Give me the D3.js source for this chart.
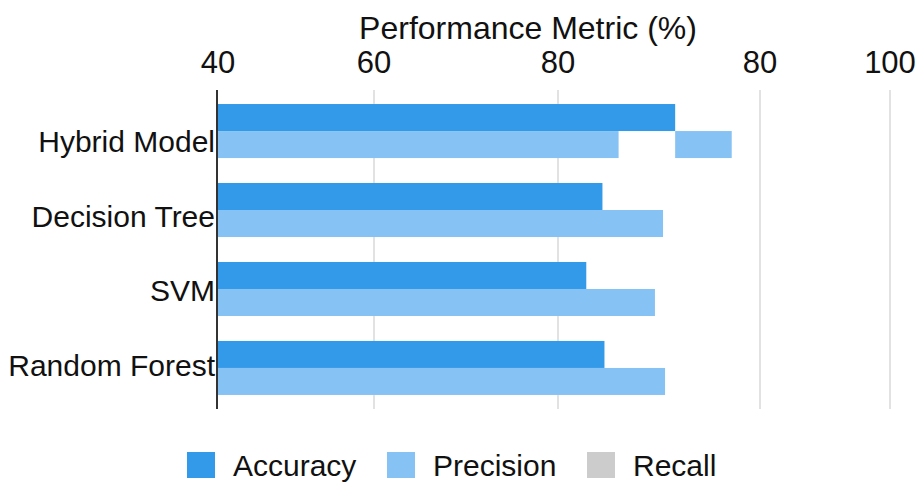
<!DOCTYPE html>
<html>
<head>
<meta charset="utf-8">
<script src="https://cdn.jsdelivr.net/npm/d3@7"></script>
<style>
  body { margin: 0; background: #fff; }
  text { font-family: "Liberation Sans", Arial, sans-serif; fill: #111; }
</style>
</head>
<body>
<svg id="chart"></svg>
<script>
// data
const models = ["Hybrid Model", "Decision Tree", "SVM", "Random Forest"];
const accuracy = [85.8, 82.2, 81.4, 82.3];
const precision = [83.0, 85.2, 84.8, 85.3];
const recall = [null, null, null, null];
// the odd detached light-blue piece on the Hybrid Model row
const extraStart = [85.8, null, null, null];
const extraEnd = [88.6, null, null, null];
const tickValues = [40, 60, 80, 90, 100];
const tickLabels = ["40", "60", "80", "80", "100"];
const seriesNames = ["Accuracy", "Precision", "Recall"];

const width = 916, height = 482;
const colors = { Accuracy: "#3399e9", Precision: "#86c3f4", Recall: "#cccccc" };

const svg = d3.select("#chart").attr("width", width).attr("height", height);

// uneven tick spacing, as in the picture
const x = d3.scaleLinear()
    .domain(tickValues)
    .range([218, 374, 558, 760, 890]);

const y = d3.scaleBand()
    .domain(models)
    .range([91, 408])
    .paddingInner(0.316)
    .paddingOuter(0.165);

const sub = d3.scaleBand()
    .domain(["Accuracy", "Precision"])
    .range([0, y.bandwidth()]);

const labelY = d3.scalePoint()
    .domain(models)
    .range([142, 366]);

// gridlines
svg.append("g")
    .selectAll("line")
    .data(tickValues.slice(1))
    .join("line")
    .attr("x1", d => x(d)).attr("x2", d => x(d))
    .attr("y1", 90).attr("y2", 409)
    .attr("stroke", "#d8d8d8")
    .attr("stroke-width", 1.5);

// tick labels on top
svg.append("g")
    .selectAll("text")
    .data(tickValues)
    .join("text")
    .attr("x", d => x(d))
    .attr("y", 73)
    .attr("text-anchor", "middle")
    .attr("font-size", 31)
    .text((d, i) => tickLabels[i]);

svg.append("text")
    .attr("x", 528)
    .attr("y", 39)
    .attr("text-anchor", "middle")
    .attr("font-size", 32)
    .text("Performance Metric (%)");

const rows = models.map((m, i) => ({
    model: m, accuracy: accuracy[i], precision: precision[i], recall: recall[i],
    extraStart: extraStart[i], extraEnd: extraEnd[i]
}));

const bars = svg.append("g");

bars.selectAll(".acc")
    .data(rows)
    .join("rect")
    .attr("class", "acc")
    .attr("x", x(40))
    .attr("y", d => y(d.model) + sub("Accuracy"))
    .attr("width", d => x(d.accuracy) - x(40))
    .attr("height", sub.bandwidth())
    .attr("fill", colors.Accuracy);

bars.selectAll(".prec")
    .data(rows)
    .join("rect")
    .attr("class", "prec")
    .attr("x", x(40))
    .attr("y", d => y(d.model) + sub("Precision"))
    .attr("width", d => x(d.precision) - x(40))
    .attr("height", sub.bandwidth())
    .attr("fill", colors.Precision);

bars.selectAll(".extra")
    .data(rows.filter(d => d.extraStart != null))
    .join("rect")
    .attr("class", "extra")
    .attr("x", d => x(d.extraStart))
    .attr("y", d => y(d.model) + sub("Precision"))
    .attr("width", d => x(d.extraEnd) - x(d.extraStart))
    .attr("height", sub.bandwidth())
    .attr("fill", colors.Precision);

// left axis line
svg.append("line")
    .attr("x1", 217).attr("x2", 217)
    .attr("y1", 90).attr("y2", 409)
    .attr("stroke", "#333")
    .attr("stroke-width", 2);

svg.append("g")
    .selectAll("text")
    .data(models)
    .join("text")
    .attr("x", 215)
    .attr("y", d => labelY(d) + 10)
    .attr("text-anchor", "end")
    .attr("font-size", 30)
    .text(d => d);

// legend
const legend = svg.append("g")
    .selectAll("g")
    .data(seriesNames)
    .join("g")
    .attr("transform", (d, i) => `translate(${187 + i * 200},452)`);

legend.append("rect")
    .attr("width", 28)
    .attr("height", 26)
    .attr("fill", d => colors[d]);

legend.append("text")
    .attr("x", 46)
    .attr("y", 24)
    .attr("font-size", 30)
    .text(d => d);
</script>
</body>
</html>
